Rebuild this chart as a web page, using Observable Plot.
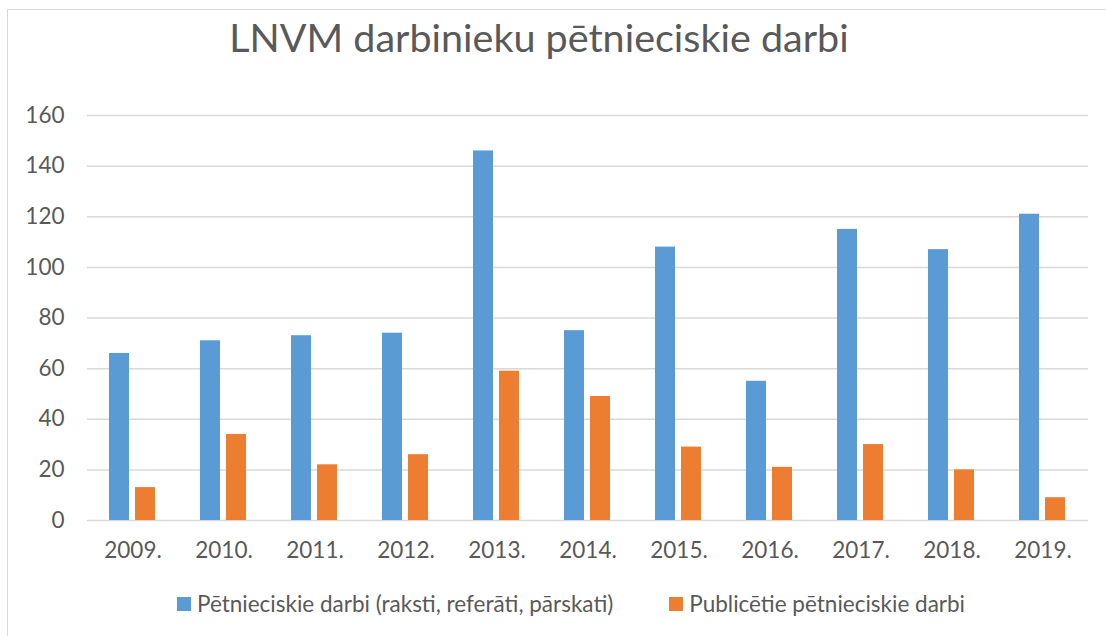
<!DOCTYPE html>
<html>
<head>
<meta charset="utf-8">
<script src="https://cdn.jsdelivr.net/npm/d3@7"></script>
<script src="https://cdn.jsdelivr.net/npm/@observablehq/plot@0.6"></script>
<style>
  body { margin: 0; background: #fff; font-family: Lato, "Open Sans", sans-serif; }
  #wrap { position: relative; width: 1106px; height: 636px; overflow: hidden; background: #fff; }
  #frame { position: absolute; left: 7px; top: 9px; width: 1300px; height: 800px; border: 1.5px solid #d9d9d9; box-sizing: border-box; }
  #title { position: absolute; left: 0; width: 1078px; top: 13px; text-align: center; font-size: 39.5px; color: #595959; white-space: nowrap; }
  #chart { position: absolute; left: 0; top: 0; }
  #legend { position: absolute; top: 590px; left: 0; width: 1142px; display: flex; justify-content: center; gap: 56px; font-size: 22.5px; color: #595959; }
  .item { display: flex; align-items: center; gap: 6px; white-space: nowrap; }
  .sw { width: 14px; height: 14px; display: inline-block; }
</style>
</head>
<body>
<div id="wrap">
  <div id="frame"></div>
  <div id="title"></div>
  <div id="chart"></div>
  <div id="legend"></div>
</div>
<script>
const titleText = "LNVM darbinieku pētnieciskie darbi";
const years = ["2009.", "2010.", "2011.", "2012.", "2013.", "2014.", "2015.", "2016.", "2017.", "2018.", "2019."];
const seriesNames = ["Pētnieciskie darbi (raksti, referāti, pārskati)", "Publicētie pētnieciskie darbi"];
const research = [66, 71, 73, 74, 146, 75, 108, 55, 115, 107, 121];
const published = [13, 34, 22, 26, 59, 49, 29, 21, 30, 20, 9];
const yTicks = [0, 20, 40, 60, 80, 100, 120, 140, 160];
const colors = ["#5B9BD5", "#ED7D31"];

const rows = [];
years.forEach((yr, i) => {
  rows.push({year: yr, series: seriesNames[0], value: research[i]});
  rows.push({year: yr, series: seriesNames[1], value: published[i]});
});

document.getElementById("title").textContent = titleText;

const chart = Plot.plot({
  width: 1106,
  height: 580,
  marginLeft: 84,
  marginRight: 16,
  marginTop: 115,
  marginBottom: 60,
  style: {fontFamily: "Lato, 'Open Sans', sans-serif", fontSize: "22.5px", color: "#595959", background: "transparent"},
  fx: {domain: years, paddingInner: 0, paddingOuter: 0, label: null},
  x: {domain: seriesNames, paddingInner: 0.2176, paddingOuter: 0.854, axis: null},
  y: {domain: [0, 160], label: null, axis: null},
  color: {domain: seriesNames, range: colors},
  marks: [
    Plot.ruleY(yTicks, {y: d => d, stroke: "#d9d9d9", strokeWidth: 1.5, facet: "exclude"}),
    Plot.axisY(yTicks, {tickSize: 0, tickPadding: 23, label: null, fill: "#595959", fontSize: 22.5}),
    Plot.axisFx({tickSize: 0, tickPadding: 22, label: null, fill: "#595959", fontSize: 22.5, anchor: "bottom"}),
    Plot.barY(rows, {fx: "year", x: "series", y: "value", fill: "series"})
  ]
});
document.getElementById("chart").appendChild(chart);

const legend = document.getElementById("legend");
seriesNames.forEach((name, i) => {
  const it = document.createElement("div");
  it.className = "item";
  const sw = document.createElement("span");
  sw.className = "sw";
  sw.style.background = colors[i];
  const t = document.createElement("span");
  t.textContent = name;
  it.appendChild(sw);
  it.appendChild(t);
  legend.appendChild(it);
});
</script>
</body>
</html>
